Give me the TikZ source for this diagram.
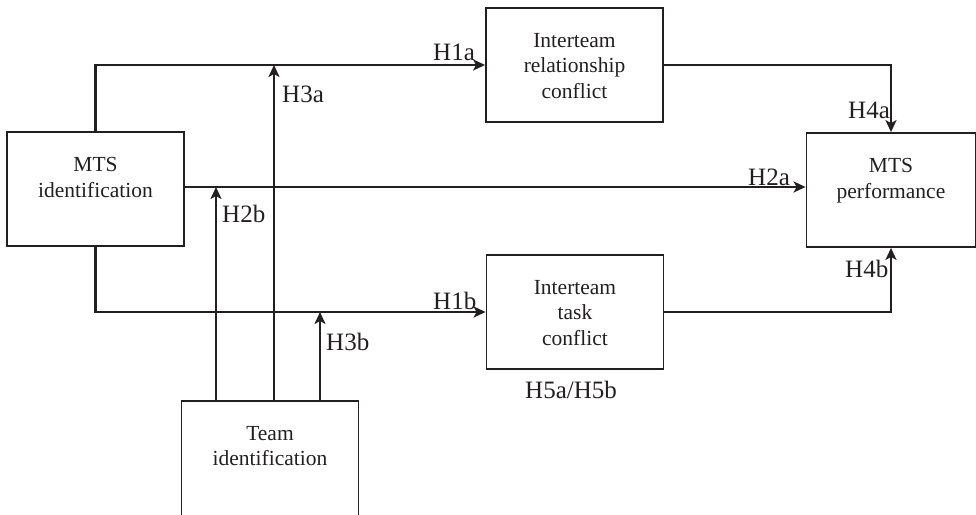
\documentclass[tikz,border=0pt]{standalone}
\usepackage{fontspec}
\setmainfont{Liberation Serif}
\usetikzlibrary{arrows.meta,calc}
\definecolor{ink}{HTML}{231F20}
\tikzset{
  box/.style={draw=ink, line width=1.8pt, rectangle, inner sep=0pt, minimum width=177pt, minimum height=114pt},
  boxtext/.style={anchor=north, inner sep=0pt, align=center, text=ink, font=\fontsize{21.5}{25.5}\selectfont},
  hyp/.style={anchor=base west, inner sep=0pt, text=ink, font=\fontsize{25}{30}\selectfont},
  conn/.style={draw=ink, line width=2.5pt, -{Stealth[length=12pt,width=11pt,inset=3pt]}},
  plain/.style={draw=ink, line width=2.5pt}
}
\begin{document}
\begin{tikzpicture}[x=1pt,y=-1pt]
\useasboundingbox (0,0) rectangle (976,514);
\clip (0,0) rectangle (976,514);
% boxes
\node[box] (mid) at (95.5,189) {};
\node[box] (rel) at (574.5,65) {};
\node[box] (task) at (575,312) {};
\node[box, minimum width=169pt] (perf) at (891,190) {};
\node[box, minimum height=140pt] (team) at (270,471) {};
% box texts
\node[boxtext] (midt) at ($(mid.north)+(0,26)$) {MTS\\identification};
\node[boxtext] (relt) at ($(rel.north)+(0,26)$) {Interteam\\relationship\\conflict};
\node[boxtext] (taskt) at ($(task.north)+(0,26)$) {Interteam\\task\\conflict};
\node[boxtext] (perft) at ($(perf.north)+(0,26)$) {MTS\\performance};
\node[boxtext] (teamt) at ($(team.north)+(0,26)$) {Team\\identification};
% connectors
\draw[conn] (mid.north) |- (rel.west);
\draw[conn] (rel.east) -| (perf.north);
\draw[conn] (mid.east |- 0,187) -- (perf.west |- 0,187);
\draw[conn] (mid.south) |- (task.west);
\draw[conn] (task.east) -| (perf.south);
\coordinate (h2b) at (216,187);
\coordinate (h3a) at (274,65);
\coordinate (h3b) at (320,312);
\draw[conn] (team.north -| h2b) -- (h2b);
\draw[conn] (team.north -| h3a) -- (h3a);
\draw[conn] (team.north -| h3b) -- (h3b);
% labels
\node[hyp] (l1a) at (433,60) {H1a};
\node[hyp] (l3a) at (282,102) {H3a};
\node[hyp] (l2b) at (222,222) {H2b};
\node[hyp] (l2a) at (748,185) {H2a};
\node[hyp] (l4a) at (848,118) {H4a};
\node[hyp] (l4b) at (845,277) {H4b};
\node[hyp] (l1b) at (433,309) {H1b};
\node[hyp] (l3b) at (326,350) {H3b};
\node[hyp] (l5) at (525,398) {H5a/H5b};
\end{tikzpicture}
\end{document}
